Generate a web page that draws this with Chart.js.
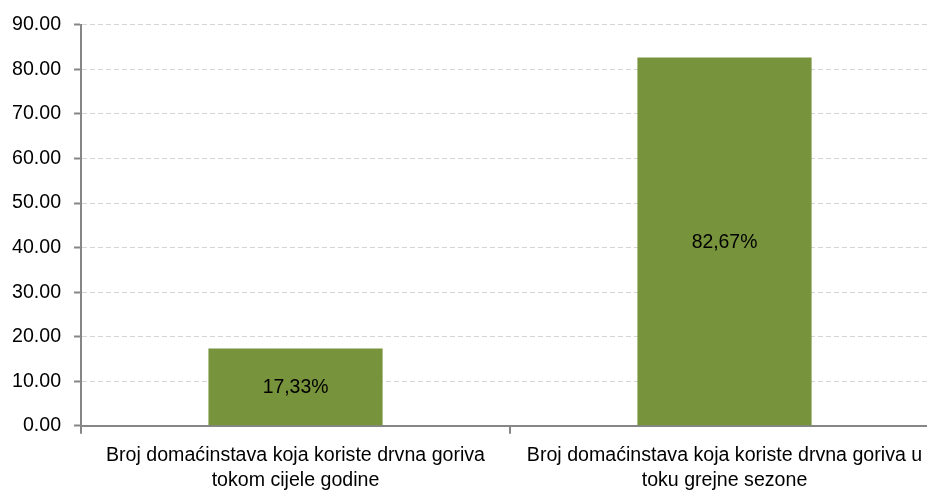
<!DOCTYPE html>
<html><head><meta charset="utf-8">
<script src="https://cdn.jsdelivr.net/npm/chart.js@4/dist/chart.umd.min.js"></script>
<style>
html,body{margin:0;padding:0;overflow:hidden;background:#fff;}
#wrap{width:940px;height:502px;}
</style></head>
<body>
<div id="wrap"><canvas id="c"></canvas></div>
<script>
const categories = [
  ["Broj domaćinstava koja koriste drvna goriva", "tokom cijele godine"],
  ["Broj domaćinstava koja koriste drvna goriva u", "toku grejne sezone"]
];
const values = [17.33, 82.67];
const valueLabels = ["17,33%", "82,67%"];
const yTicks = { min: 0, max: 90, step: 10 };

const FONT = '"Liberation Sans", Arial, sans-serif';

const barLabels = {
  id: 'barLabels',
  afterDatasetsDraw(chart) {
    const ctx = chart.ctx;
    const meta = chart.getDatasetMeta(0);
    ctx.save();
    ctx.font = '19.4px ' + FONT;
    ctx.fillStyle = '#000';
    ctx.textAlign = 'center';
    ctx.textBaseline = 'middle';
    meta.data.forEach((bar, i) => {
      const p = bar.getProps(['x', 'y', 'base'], true);
      ctx.fillText(valueLabels[i], p.x, (p.y + p.base) / 2 + 1);
    });
    ctx.restore();
  }
};

new Chart(document.getElementById('c'), {
  type: 'bar',
  data: {
    labels: categories,
    datasets: [{
      data: values,
      backgroundColor: '#77933C',
      borderWidth: 0,
      categoryPercentage: 1,
      barPercentage: 0.406
    }]
  },
  options: {
    responsive: true,
    maintainAspectRatio: false,
    animation: false,
    layout: { padding: { top: 20, left: -1, right: 1, bottom: 0 } },
    plugins: { legend: { display: false }, tooltip: { enabled: false } },
    scales: {
      y: {
        min: yTicks.min, max: yTicks.max,
        ticks: {
          stepSize: yTicks.step,
          color: '#000',
          font: { family: FONT, size: 19.6 },
          padding: 13,
          callback: v => Number(v).toFixed(2)
        },
        grid: {
          color: '#d4d4d4',
          tickColor: '#868686',
          tickLength: 7,
          tickWidth: 2,
          lineWidth: 1
        },
        border: { color: '#868686', width: 2, dash: [5, 3] }
      },
      x: {
        ticks: {
          color: '#000',
          font: { family: FONT, size: 19.6, lineHeight: 1.28 },
          padding: 9,
          maxRotation: 0,
          autoSkip: false
        },
        grid: {
          offset: true,
          drawOnChartArea: false,
          tickColor: '#868686',
          tickLength: 8,
          lineWidth: 2
        },
        border: { color: '#868686', width: 2 }
      }
    }
  },
  plugins: [barLabels]
});
</script>
</body></html>
